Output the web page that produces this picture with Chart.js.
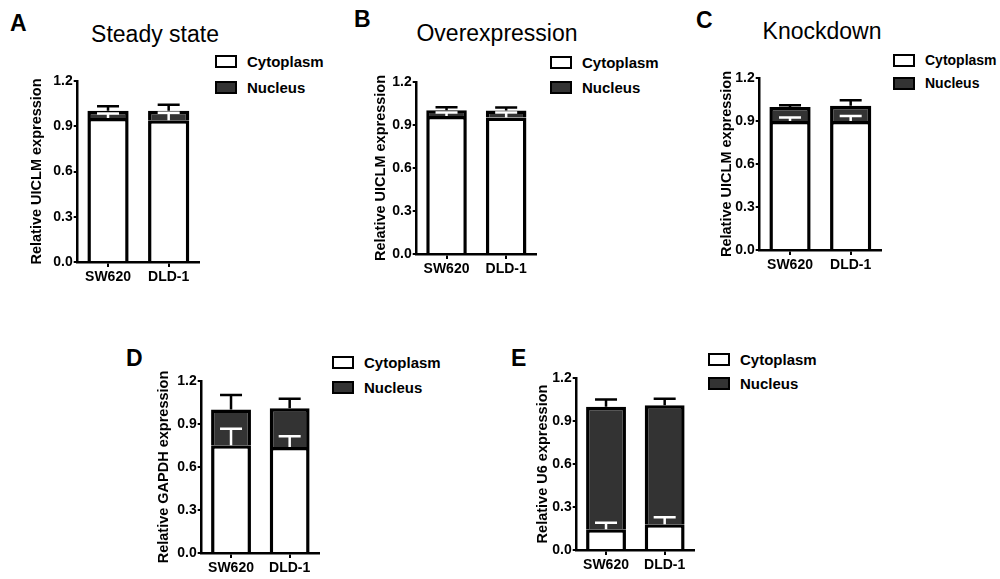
<!DOCTYPE html>
<html>
<head>
<meta charset="utf-8">
<script src="https://cdn.jsdelivr.net/npm/chart.js@4.4.1/dist/chart.umd.min.js"></script>
<style>
  body { margin: 0; background: #fff; width: 1000px; height: 579px; position: relative; overflow: hidden;
         font-family: "Liberation Sans", Arial, sans-serif; color: #000; }
  canvas { position: absolute; }
  .letter { position: absolute; font-weight: bold; font-size: 23px; line-height: 1; }
  .title { position: absolute; font-size: 23px; line-height: 1; transform: translateX(-50%); white-space: nowrap; }
  .lg { position: absolute; display: flex; align-items: center; height: 20px; font-weight: bold; font-size: 15px; white-space: nowrap; }
  .lg span.box { display: inline-block; width: 18px; height: 9px; border: 2px solid #000; margin-right: 10px; }
</style>
</head>
<body>
<script>
// categories, series and ticks
var categories = ['SW620', 'DLD-1'];
var seriesNames = ['Cytoplasm', 'Nucleus'];
var yTicks = [0, 0.3, 0.6, 0.9, 1.2];

// A - steady state (UICLM)
var steadyCyto = [0.955, 0.94];
var steadyNuc = [0.047, 0.062];
var steadyCytoErr = [0.03, 0.05];
var steadyNucErr = [0.03, 0.04];

// B - overexpression (UICLM)
var overCyto = [0.963, 0.952];
var overNuc = [0.04, 0.05];
var overCytoErr = [0.025, 0.035];
var overNucErr = [0.02, 0.02];

// C - knockdown (UICLM)
var knockCyto = [0.90, 0.90];
var knockNuc = [0.097, 0.107];
var knockCytoErr = [0.025, 0.035];
var knockNucErr = [0.013, 0.037];

// D - GAPDH
var gapdhCyto = [0.752, 0.74];
var gapdhNuc = [0.25, 0.27];
var gapdhCytoErr = [0.115, 0.075];
var gapdhNucErr = [0.10, 0.067];

// E - U6
var u6Cyto = [0.145, 0.18];
var u6Nuc = [0.855, 0.83];
var u6CytoErr = [0.045, 0.048];
var u6NucErr = [0.05, 0.045];

var fillColors = ['#ffffff', '#333333'];
var errColors = ['#ffffff', '#000000'];

Chart.defaults.font.family = '"Liberation Sans", Arial, sans-serif';
Chart.defaults.color = '#000';

// draws the up-only error bars on top of each stacked segment
var errorBars = {
    id: 'errorBars',
    afterDatasetsDraw: function(chart) {
        var ctx = chart.ctx, yScale = chart.scales.y;
        chart.data.datasets.forEach(function(ds, i) {
            chart.getDatasetMeta(i).data.forEach(function(bar, j) {
                var top = 0;
                for (var k = 0; k <= i; k++) top += chart.data.datasets[k].data[j];
                var yEnd = yScale.getPixelForValue(top + ds.errors[j]);
                ctx.save();
                ctx.strokeStyle = ds.errColor;
                ctx.lineWidth = 2.5;
                ctx.beginPath();
                ctx.moveTo(bar.x, bar.y);
                ctx.lineTo(bar.x, yEnd);
                ctx.moveTo(bar.x - 11, yEnd);
                ctx.lineTo(bar.x + 11, yEnd);
                ctx.stroke();
                ctx.restore();
            });
        });
    }
};

var panels = [
    { letter: 'A', lx: 10, ly: 12, title: 'Steady state', tx: 155, ty: 23, yLabel: 'Relative UICLM expression',
      cyto: steadyCyto, nuc: steadyNuc, cytoErr: steadyCytoErr, nucErr: steadyNucErr,
      axisX: 78, xEnd: 200, topY: 81, zeroY: 262, yTitleX: 37, legX: 215, legY: [61, 87], legFont: 15 },
    { letter: 'B', lx: 354, ly: 8, title: 'Overexpression', tx: 497, ty: 22, yLabel: 'Relative UICLM expression',
      cyto: overCyto, nuc: overNuc, cytoErr: overCytoErr, nucErr: overNucErr,
      axisX: 417, xEnd: 537, topY: 82, zeroY: 254, yTitleX: 381, legX: 550, legY: [62, 87], legFont: 15 },
    { letter: 'C', lx: 696, ly: 9, title: 'Knockdown', tx: 822, ty: 20, yLabel: 'Relative UICLM expression',
      cyto: knockCyto, nuc: knockNuc, cytoErr: knockCytoErr, nucErr: knockNucErr,
      axisX: 760, xEnd: 882, topY: 78, zeroY: 250, yTitleX: 727, legX: 893, legY: [60, 83], legFont: 14 },
    { letter: 'D', lx: 126, ly: 347, title: '', yLabel: 'Relative GAPDH expression',
      cyto: gapdhCyto, nuc: gapdhNuc, cytoErr: gapdhCytoErr, nucErr: gapdhNucErr,
      axisX: 202, xEnd: 320, topY: 381, zeroY: 553, yTitleX: 164, legX: 332, legY: [362, 387], legFont: 15 },
    { letter: 'E', lx: 511, ly: 347, title: '', yLabel: 'Relative U6 expression',
      cyto: u6Cyto, nuc: u6Nuc, cytoErr: u6CytoErr, nucErr: u6NucErr,
      axisX: 577, xEnd: 695, topY: 378, zeroY: 550, yTitleX: 543, legX: 708, legY: [359, 383], legFont: 15 }
];

function addDiv(cls, html, left, top) {
    var d = document.createElement('div');
    d.className = cls;
    d.innerHTML = html;
    d.style.left = left + 'px';
    d.style.top = top + 'px';
    document.body.appendChild(d);
    return d;
}

panels.forEach(function(p) {
    addDiv('letter', p.letter, p.lx, p.ly);
    if (p.title) addDiv('title', p.title, p.tx, p.ty);
    seriesNames.forEach(function(name, i) {
        var row = addDiv('lg', '<span class="box" style="background:' + fillColors[i] + '"></span>' + name, p.legX, p.legY[i] - 10);
        row.style.fontSize = p.legFont + 'px';
    });

    var padTop = 12, padRight = 6, xH = 30;
    var yW = p.axisX - (p.yTitleX - 8.7);
    var left = p.axisX - yW;
    var canvas = document.createElement('canvas');
    canvas.width = p.xEnd + padRight - left;
    canvas.height = p.zeroY - p.topY + padTop + xH;
    canvas.style.left = left + 'px';
    canvas.style.top = (p.topY - padTop) + 'px';
    document.body.appendChild(canvas);

    new Chart(canvas.getContext('2d'), {
        type: 'bar',
        data: {
            labels: categories,
            datasets: [{
                label: seriesNames[0],
                data: p.cyto,
                errors: p.cytoErr,
                errColor: errColors[0],
                backgroundColor: fillColors[0],
                borderColor: '#000',
                borderWidth: 3.5,
                borderSkipped: 'start'
            }, {
                label: seriesNames[1],
                data: p.nuc,
                errors: p.nucErr,
                errColor: errColors[1],
                backgroundColor: fillColors[1],
                borderColor: '#000',
                borderWidth: 3.5,
                borderSkipped: 'start'
            }]
        },
        options: {
            responsive: false,
            animation: false,
            layout: { padding: { top: padTop, right: padRight, left: 0, bottom: 0 } },
            barPercentage: 0.68,
            categoryPercentage: 1,
            plugins: { legend: { display: false }, tooltip: { enabled: false } },
            scales: {
                x: {
                    stacked: true,
                    afterFit: function(s) { s.height = xH; },
                    grid: { offset: false, drawOnChartArea: false, drawTicks: true, tickLength: 5, color: '#000', lineWidth: 2 },
                    border: { color: '#000', width: 2.5 },
                    ticks: { padding: 2, font: { size: 14, weight: 'bold' } }
                },
                y: {
                    stacked: true,
                    min: yTicks[0],
                    max: yTicks[yTicks.length - 1],
                    afterFit: function(s) { s.width = yW; },
                    afterBuildTicks: function(s) { s.ticks = yTicks.map(function(v) { return { value: v }; }); },
                    grid: { drawOnChartArea: false, drawTicks: true, tickLength: 4, color: '#000', lineWidth: 2 },
                    border: { color: '#000', width: 2.5 },
                    ticks: { padding: 1, font: { size: 14, weight: 'bold' }, callback: function(v) { return v.toFixed(1); } },
                    title: { display: true, text: p.yLabel, padding: 0, font: { size: 14.5, weight: 'bold' } }
                }
            }
        },
        plugins: [errorBars]
    });
});
</script>
</body>
</html>
